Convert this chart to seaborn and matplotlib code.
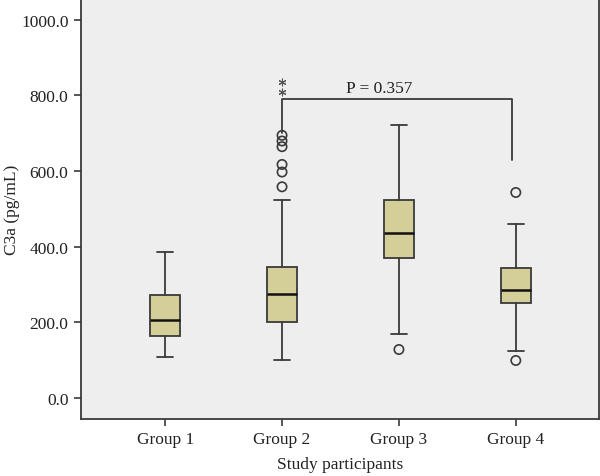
import matplotlib
matplotlib.use("Agg")
import matplotlib.pyplot as plt
import numpy as np
import pandas as pd
import seaborn as sns

# values
groups = ["Group 1", "Group 2", "Group 3", "Group 4"]
whisker_low = [109, 100, 168, 125]
q1 = [164, 201, 369, 252]
medians = [206, 274, 435, 286]
q3 = [272, 345, 522, 343]
whisker_high = [387, 523, 722, 460]
outliers = [[], [558, 597, 617, 664, 679, 694], [128], [99, 543]]
extremes = [[], [809, 836], [], []]  # drawn as asterisks
p_label = "P = 0.357"
bracket_groups = [1, 3]
bracket_top = 791
bracket_ends = [699, 629]
y_ticks = [0, 200, 400, 600, 800, 1000]

sns.set_theme(style="ticks")
plt.rcParams["font.family"] = ["Liberation Serif", "DejaVu Serif"]

edge = "#3a3a3a"
fig = plt.figure(figsize=(6, 4.77), dpi=100)
ax = fig.add_axes([0.135, 0.12, 0.863, 0.879])
ax.set_facecolor("#eeeeee")

stats = []
for i, g in enumerate(groups):
    stats.append({
        "label": g, "whislo": whisker_low[i], "q1": q1[i], "med": medians[i],
        "q3": q3[i], "whishi": whisker_high[i], "fliers": [],
    })
ax.bxp(
    stats, positions=range(len(groups)), widths=0.26, patch_artist=True,
    showfliers=False,
    boxprops=dict(facecolor="#d4cf99", edgecolor=edge, linewidth=1.3),
    medianprops=dict(color="#111111", linewidth=1.8),
    whiskerprops=dict(color=edge, linewidth=1.3),
    capprops=dict(color=edge, linewidth=1.3),
    capwidths=0.14,
)

# outliers as open circles, extreme values as asterisks
out_df = pd.DataFrame(
    [(i, v) for i, vals in enumerate(outliers) for v in vals], columns=["pos", "value"]
)
ext_df = pd.DataFrame(
    [(i, v) for i, vals in enumerate(extremes) for v in vals], columns=["pos", "value"]
)
sns.scatterplot(
    data=out_df, x="pos", y="value", ax=ax, marker="o", s=45,
    facecolor="none", edgecolor=edge, linewidth=1.2, zorder=4,
)
sns.scatterplot(
    data=ext_df, x="pos", y="value", ax=ax, marker=(6, 2, 0), s=24,
    color="#555555", edgecolor="#555555", linewidth=0.8, zorder=4,
)

# significance bracket
x0, x1 = bracket_groups[0], bracket_groups[1] - 0.035
ax.plot([x0, x0, x1, x1], [bracket_ends[0], bracket_top, bracket_top, bracket_ends[1]],
        color=edge, linewidth=1.3)
ax.text((x0 + x1) / 2 - 0.15, bracket_top + 6, p_label, ha="center", va="bottom",
        fontsize=12.5, color="#222222")

ax.set_xlim(-0.72, 3.71)
ax.set_ylim(-55, 1053)
ax.set_xticks(range(len(groups)))
ax.set_xticklabels(groups)
ax.set_yticks(y_ticks)
ax.set_yticklabels([f"{t:.1f}" for t in y_ticks])
ax.tick_params(axis="both", labelsize=12.5, length=5, width=1.2, color=edge,
               labelcolor="#222222", pad=4)
ax.set_xlabel("Study participants", fontsize=12.5, color="#222222", labelpad=6)
ax.set_ylabel("C3a (pg/mL)", fontsize=12.5, color="#222222", labelpad=1)
for s in ax.spines.values():
    s.set_color(edge)
    s.set_linewidth(1.3)

fig.savefig("out.png", dpi=100)
